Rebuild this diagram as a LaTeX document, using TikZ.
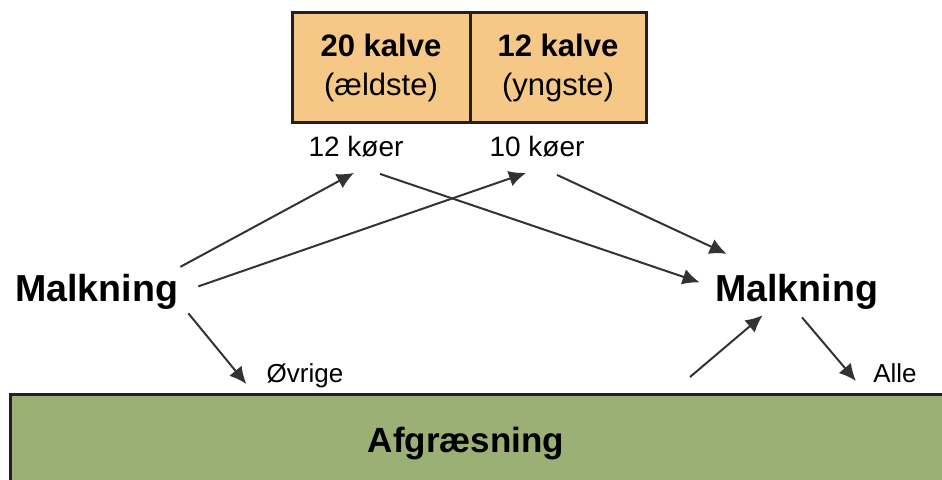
\documentclass[tikz,border=0pt]{standalone}
\usepackage{fontspec}
\setmainfont{Liberation Sans}
\usetikzlibrary{arrows.meta,calc}
\definecolor{kalvefarve}{RGB}{245,200,135}
\definecolor{graesfarve}{RGB}{155,176,116}
\definecolor{kant}{RGB}{35,31,32}
\tikzset{
  kasse/.style={draw=kant, line width=1.5pt, fill=kalvefarve, minimum height=55pt,
    align=center, inner sep=0pt, font=\fontsize{15.5}{19.5}\selectfont},
  tekst/.style={inner sep=0pt, anchor=base},
  lille/.style={font=\fontsize{14}{16}\selectfont},
  mindre/.style={font=\fontsize{13}{15}\selectfont},
  stor/.style={font=\bfseries\fontsize{18.8}{22}\selectfont},
  pil/.style={draw=black!80, line width=1pt, -{Latex[length=8.5pt,width=8pt]}},
}
\begin{document}
\begin{tikzpicture}[x=0.5pt,y=-0.5pt]
  \useasboundingbox (0,0) rectangle (942,480);
  % kalvene
  \node[kasse, minimum width=89pt] at (381,68) (aeldste) {\textbf{20 kalve}\\(ældste)};
  \node[kasse, minimum width=88pt] at (558,68) (yngste) {\textbf{12 kalve}\\(yngste)};
  \node[tekst, lille] at (356,157) (koer12) {12 køer};
  \node[tekst, lille] at (537,157) (koer10) {10 køer};

  % malkning
  \node[tekst, stor] at (96.5,302) (malkL) {Malkning};
  \node[tekst, stor] at (796.5,302) (malkR) {Malkning};
  \node[tekst, mindre] at (305,383) (oevrige) {Øvrige};
  \node[tekst, mindre] at (895,383) (alle) {Alle};

  % afgræsning
  \filldraw[draw=kant, line width=1.5pt, fill=graesfarve] (10,395) rectangle (960,500);
  \node[tekst, font=\bfseries\fontsize{17.5}{20}\selectfont] at (466,452) (graes) {Afgræsning};
  \coordinate (fra) at (690,377);

  \draw[pil] ($(malkL.north east)+(2,-7.5)$) -- ($(koer12.south)+(-2,15)$);
  \draw[pil] ($(malkL.east)+(20,-6)$) -- ($(koer10.south)+(-11,15)$);
  \draw[pil] ($(koer12.south)+(24,16)$) -- ($(malkR.west)+(-15,-10)$);
  \draw[pil] ($(koer10.south)+(20,17)$) -- ($(malkR.north west)+(12,-20.5)$);
  \draw[pil] ($(malkL.south east)+(10,3)$) -- ($(oevrige.base west)+(-20,1)$);
  \draw[pil] (fra) -- ($(malkR.south west)+(48,5)$);
  \draw[pil] ($(malkR.south)+(5.5,7)$) -- ($(alle.base west)+(-17,-2)$);
\end{tikzpicture}
\end{document}
